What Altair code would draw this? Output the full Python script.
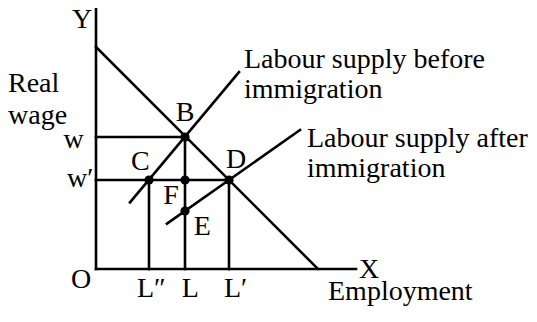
import altair as alt
import pandas as pd

# ---- values (units: arbitrary economic units) ----
axis_len_x = 13.0
axis_len_y = 13.0
demand_x = [0.0, 11.1]
demand_y = [11.1, 0.0]
supply_before_x = [1.70, 7.15]
supply_before_y = [3.33, 9.84]
supply_after_x = [3.55, 10.20]
supply_after_y = [2.27, 6.95]
w = 6.6          # wage before immigration
w_prime = 4.45   # wage after immigration
L = 4.45         # employment before
L_dbl = 2.65     # L''
L_prime = 6.65   # L'
E_y = 2.9

point_names = ["B", "C", "D", "F", "E"]
point_x = [L, L_dbl, L_prime, L, L]
point_y = [w, w_prime, w_prime, w_prime, E_y]

label_text = ["Y", "Real", "wage", "w", "w\u2032", "B", "C", "D", "F", "E", "O",
              "L\u2033", "L", "L\u2032", "X", "Employment",
              "Labour supply before", "immigration",
              "Labour supply after", "immigration"]
label_x = [-0.7, -4.4, -4.4, -1.12, -1.45, 4.45, 2.22, 7.0, 3.75, 5.32, -0.75,
           2.05, 4.72, 6.4, 13.65, 11.6, 7.4, 7.4, 10.55, 10.55]
label_y = [12.05, 8.85, 7.25, 6.05, 4.1, 7.4, 4.95, 5.05, 3.25, 1.7, -0.95,
           -1.4, -1.4, -1.4, -0.45, -1.55, 10.05, 8.55, 6.1, 4.6]
label_align = ["center", "left", "left", "center", "left", "center", "center", "center",
               "center", "center", "center", "left", "center", "left", "center",
               "left", "left", "left", "left", "left"]

# ---- tables ----
segments = pd.DataFrame({
    "x": [0, 0, demand_x[0], supply_before_x[0], supply_after_x[0], 0, 0, L_dbl, L, L_prime],
    "y": [0, 0, demand_y[0], supply_before_y[0], supply_after_y[0], w, w_prime, 0, 0, 0],
    "x2": [0, axis_len_x, demand_x[1], supply_before_x[1], supply_after_x[1], L, L_prime, L_dbl, L, L_prime],
    "y2": [axis_len_y, 0, demand_y[1], supply_before_y[1], supply_after_y[1], w, w_prime, w_prime, w, w_prime],
})
points = pd.DataFrame({"name": point_names, "x": point_x, "y": point_y})
labels = pd.DataFrame({"t": label_text, "x": label_x, "y": label_y, "align": label_align})

xs = alt.Scale(domain=[-4.4, 21.65], nice=False, zero=False)
ys = alt.Scale(domain=[-2.25, 13.05], nice=False, zero=False)

rules = alt.Chart(segments).mark_rule(color="black", strokeWidth=2.6, strokeCap="square").encode(
    x=alt.X("x:Q", scale=xs, axis=None),
    y=alt.Y("y:Q", scale=ys, axis=None),
    x2="x2:Q",
    y2="y2:Q",
)

dots = alt.Chart(points).mark_circle(color="black", size=85, opacity=1).encode(
    x=alt.X("x:Q", scale=xs, axis=None),
    y=alt.Y("y:Q", scale=ys, axis=None),
)

def text_layer(align):
    return alt.Chart(labels).transform_filter(alt.datum.align == align).mark_text(
        font="Liberation Serif", fontSize=28, color="black", align=align, baseline="alphabetic"
    ).encode(
        x=alt.X("x:Q", scale=xs, axis=None),
        y=alt.Y("y:Q", scale=ys, axis=None),
        text="t:N",
    )

chart = alt.layer(rules, dots, text_layer("left"), text_layer("center")).properties(
    width=521, height=306,
    autosize=alt.AutoSizeParams(type="none"),
    padding=0,
    background="white",
).configure_view(stroke=None)

chart.save("out.html", embed_options={"renderer": "svg", "actions": False})
